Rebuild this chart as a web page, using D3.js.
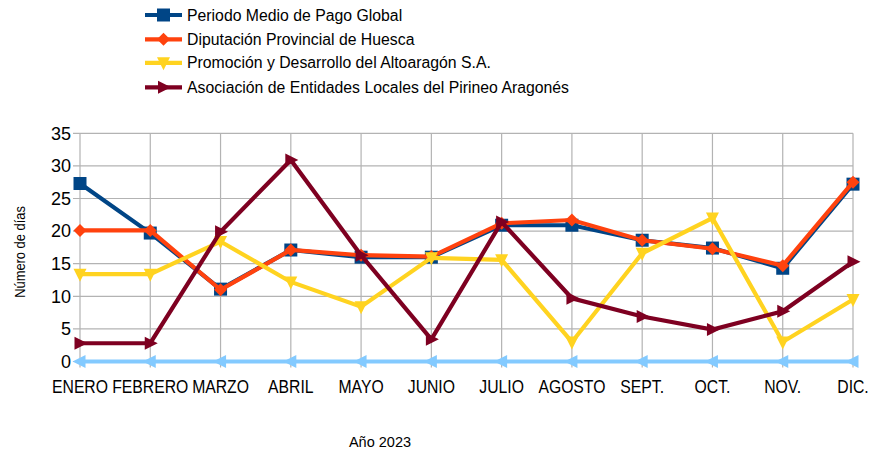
<!DOCTYPE html>
<html><head><meta charset="utf-8">
<script src="https://cdn.jsdelivr.net/npm/d3@7"></script>
<style>
html,body{margin:0;padding:0;background:#fff;}
svg{display:block;font-family:"Liberation Sans",Arial,sans-serif;}
</style></head>
<body>
<svg id="chart" width="871" height="455"></svg>
<script>
const months = ["ENERO","FEBRERO","MARZO","ABRIL","MAYO","JUNIO","JULIO","AGOSTO","SEPT.","OCT.","NOV.","DIC."];
const periodoMedio = [27.3,19.7,11.1,17.1,16.0,16.0,20.9,20.9,18.6,17.4,14.3,27.2];
const diputacion   = [20.1,20.1,11.0,17.1,16.3,16.1,21.2,21.7,18.6,17.3,14.7,27.5];
const promocion    = [13.4,13.4,18.4,12.2,8.4,15.9,15.6,3.0,16.6,22.0,3.0,9.5];
const asociacion   = [2.8,2.8,19.9,30.9,16.3,3.4,21.4,9.7,6.9,4.9,7.7,15.3];
const cero         = [0,0,0,0,0,0,0,0,0,0,0,0];
const yTicks = [0,5,10,15,20,25,30,35];
const seriesNames = ["Periodo Medio de Pago Global","Diputación Provincial de Huesca","Promoción y Desarrollo del Altoaragón S.A.","Asociación de Entidades Locales del Pirineo Aragonés",""];
const seriesColors = ["#004586","#ff420e","#ffd320","#7e0021","#83caff"];
const seriesShapes = ["square","diamond","down","right","left"];
const seriesValues = [periodoMedio,diputacion,promocion,asociacion,cero];
const yTitle = "Número de días";
const xTitle = "Año 2023";

const svg = d3.select("#chart");
const x = d3.scalePoint().domain(months).range([80,853]);
const y = d3.scaleLinear().domain([0,35]).range([361.5,133.3]);

function shapePath(s){
  const r=6.5;
  switch(s){
    case "square": return `M${-r},${-r}H${r}V${r}H${-r}Z`;
    case "diamond": return `M0,${-r}L${r},0L0,${r}L${-r},0Z`;
    case "down": return `M${-r},${-r+1}L${r},${-r+1}L0,${r+1}Z`;
    case "right": return `M${-r+1},${-r}L${r+1},0L${-r+1},${r}Z`;
    case "left": return `M${r-1},${-r}L${-r-1},0L${r-1},${r}Z`;
  }
}

// grid
const grid = svg.append("g");
grid.selectAll("line.h").data(yTicks).join("line")
  .attr("x1",73).attr("x2",853).attr("y1",d=>y(d)).attr("y2",d=>y(d))
  .attr("stroke","#b3b3b3").attr("stroke-width",1.2);
grid.selectAll("line.v").data(months).join("line")
  .attr("x1",d=>x(d)).attr("x2",d=>x(d)).attr("y1",y(35)).attr("y2",y(0)+6)
  .attr("stroke","#b3b3b3").attr("stroke-width",1.2);

// y axis labels
const yAxis = d3.axisLeft(y).tickValues(yTicks).tickSize(0).tickPadding(9);
const yg = svg.append("g").attr("transform","translate(80,0)").call(yAxis);
yg.select(".domain").remove();
yg.selectAll("text").attr("font-size","18px").attr("fill","#000").attr("font-family","Liberation Sans, Arial, sans-serif");

// x labels
svg.append("g").selectAll("text").data(months).join("text")
  .attr("transform",d=>`translate(${x(d)},392.5) scale(0.9,1)`)
  .attr("text-anchor","middle").attr("font-size","17.5px").attr("fill","#000")
  .text(d=>d);

// titles
svg.append("text").attr("transform","translate(25,252) rotate(-90) scale(0.86,1)")
  .attr("text-anchor","middle").attr("font-size","15px").text(yTitle);
svg.append("text").attr("transform","translate(380,447)")
  .attr("text-anchor","middle").attr("font-size","14.5px").text(xTitle);

// series
const line = d3.line().x((d,i)=>x(months[i])).y(d=>y(d));
seriesValues.forEach((vals,k)=>{
  const g = svg.append("g");
  g.append("path").attr("d",line(vals)).attr("fill","none")
    .attr("stroke",seriesColors[k]).attr("stroke-width",4.2).attr("stroke-linejoin","miter");
  g.selectAll("path.m").data(vals).join("path")
    .attr("transform",(d,i)=>`translate(${x(months[i])},${y(d)})`)
    .attr("d",shapePath(seriesShapes[k])).attr("fill",seriesColors[k]);
});

// legend
const legendY = [15,39.3,62.8,87.3];
for(let k=0;k<4;k++){
  const lg = svg.append("g").attr("transform",`translate(145,${legendY[k]})`);
  lg.append("line").attr("x1",0).attr("x2",37).attr("y1",0).attr("y2",0)
    .attr("stroke",seriesColors[k]).attr("stroke-width",4.2);
  lg.append("path").attr("transform","translate(18.5,0)").attr("d",shapePath(seriesShapes[k])).attr("fill",seriesColors[k]);
  lg.append("text").attr("x",42).attr("y",0).attr("dy","0.35em").attr("font-size","15.8px").attr("fill","#000").text(seriesNames[k]);
}
</script>
</body></html>
